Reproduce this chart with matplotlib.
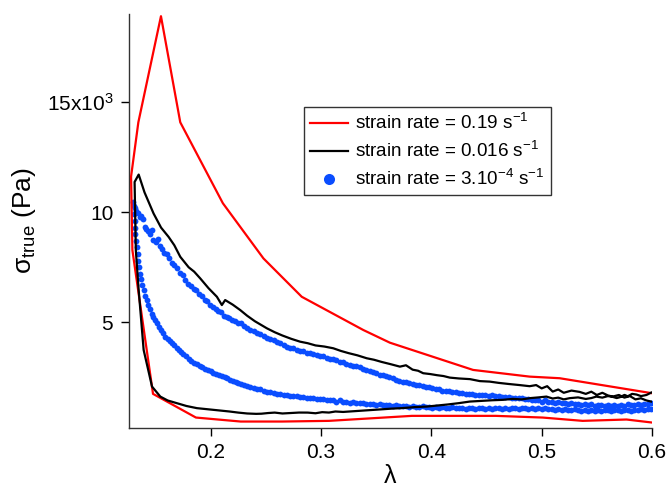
import matplotlib
matplotlib.use("Agg")
import matplotlib.pyplot as plt

plt.rcParams['font.family'] = ['Liberation Sans', 'DejaVu Sans']
plt.rcParams['mathtext.fontset'] = 'custom'
plt.rcParams['mathtext.rm'] = 'Liberation Sans'
plt.rcParams['mathtext.it'] = 'Liberation Sans:italic'
plt.rcParams['mathtext.bf'] = 'Liberation Sans:bold'

# ---- data ----
red_lam = [0.600, 0.5163, 0.4891, 0.4378, 0.3624, 0.3383, 0.2825, 0.2478, 0.2110,
           0.1724, 0.1549, 0.1344, 0.1278, 0.1290, 0.1477, 0.1866, 0.2272, 0.2647,
           0.3072, 0.3824, 0.4213, 0.4584, 0.5009, 0.5371, 0.5769, 0.600]
red_sig = [1780, 2461, 2534, 2838, 4075, 4651, 6160, 7901, 10408,
           14082, 18900, 14082, 11617, 8277, 1750, 675, 494, 494,
           525, 752, 752, 752, 675, 525, 586, 449]

black_lam = [0.5993, 0.5950, 0.5900, 0.5860, 0.5820, 0.5780, 0.5751, 0.5710, 0.5680,
             0.5640, 0.5600, 0.5550, 0.5495, 0.5450, 0.5400, 0.5330, 0.5253, 0.5200,
             0.5150, 0.5100, 0.5043, 0.4970, 0.4900, 0.4820, 0.4738, 0.4650, 0.4550,
             0.4450, 0.4348, 0.4250, 0.4150, 0.4050, 0.3959, 0.3850, 0.3730, 0.3640,
             0.3550, 0.3460, 0.3380, 0.3290, 0.3200, 0.3130, 0.3072, 0.3010, 0.2950,
             0.2880, 0.2801, 0.2720, 0.2650, 0.2580, 0.2520, 0.2460, 0.2412, 0.2330,
             0.2250, 0.2170, 0.2086, 0.1980, 0.1875, 0.1780, 0.1694, 0.1610, 0.1543,
             0.1468, 0.1392, 0.1347, 0.1321, 0.1310, 0.1347, 0.1400, 0.1482, 0.1550,
             0.1618, 0.1670, 0.1724, 0.1800, 0.1850, 0.1905, 0.1980, 0.2056, 0.2101,
             0.2131, 0.2200, 0.2267, 0.2330, 0.2400, 0.2450, 0.2509, 0.2580, 0.2650,
             0.2730, 0.2810, 0.2880, 0.2950, 0.3030, 0.3111, 0.3180, 0.3250, 0.3330,
             0.3414, 0.3480, 0.3550, 0.3630, 0.3715, 0.3770, 0.3830, 0.3880, 0.3926,
             0.3990, 0.4050, 0.4110, 0.4167, 0.4250, 0.4350, 0.4440, 0.4529, 0.4610,
             0.4700, 0.4800, 0.4891, 0.4950, 0.5000, 0.5050, 0.5100, 0.5150, 0.5200,
             0.5270, 0.5344, 0.5400, 0.5450, 0.5500, 0.5550, 0.5600, 0.5643, 0.5700,
             0.5750, 0.5800, 0.5850, 0.5900, 0.5950, 0.5993]
black_sig = [1809, 1700, 1650, 1720, 1750, 1640, 1704, 1600, 1560,
             1620, 1650, 1580, 1627, 1560, 1520, 1590, 1555, 1500,
             1580, 1540, 1627, 1590, 1560, 1500, 1523, 1480, 1460,
             1430, 1401, 1330, 1270, 1220, 1174, 1150, 1102, 1080,
             1050, 1020, 993, 960, 930, 950, 902, 920, 870,
             900, 902, 880, 860, 900, 880, 850, 843, 860,
             900, 950, 993, 1050, 1102, 1200, 1328, 1450, 1627,
             2081, 3744, 6464, 8277, 11373, 11709, 10900, 9941, 9300,
             8880, 8500, 7974, 7500, 7300, 6994, 6550, 6160, 5784,
             6011, 5800, 5558, 5300, 5050, 4900, 4728, 4550, 4400,
             4250, 4121, 4050, 3950, 3900, 3821, 3700, 3600, 3500,
             3368, 3300, 3200, 3100, 2987, 3050, 2850, 2800, 2688,
             2650, 2600, 2560, 2489, 2450, 2420, 2330, 2307, 2250,
             2200, 2150, 2099, 2150, 2000, 2100, 1854, 1950, 1800,
             1900, 1840, 1750, 1850, 1700, 1800, 1680, 1627, 1700,
             1580, 1650, 1500, 1550, 1450, 1401]

blue_up_lam = [0.1300, 0.1310, 0.1325, 0.1340, 0.1355, 0.1370, 0.1385, 0.1400, 0.1415, 0.1430,
               0.1450, 0.1465, 0.1480, 0.1500, 0.1520, 0.1540, 0.1560, 0.1580, 0.1600, 0.1620,
               0.1645, 0.1670, 0.1695, 0.1720, 0.1745, 0.1770, 0.1795, 0.1820, 0.1845, 0.1870,
               0.1895, 0.1920, 0.1945, 0.1970, 0.1995, 0.2020, 0.2045, 0.2070, 0.2095, 0.2120,
               0.2145, 0.2170, 0.2195, 0.2220, 0.2245, 0.2270, 0.2300, 0.2330, 0.2360, 0.2390,
               0.2420, 0.2450, 0.2480, 0.2510, 0.2540, 0.2570, 0.2600, 0.2630, 0.2660, 0.2690,
               0.2720, 0.2750, 0.2780, 0.2810, 0.2840, 0.2870, 0.2900, 0.2930, 0.2960, 0.2990,
               0.3020, 0.3050, 0.3080, 0.3110, 0.3140, 0.3170, 0.3200, 0.3230, 0.3260, 0.3290,
               0.3320, 0.3350, 0.3380, 0.3410, 0.3440, 0.3470, 0.3500, 0.3530, 0.3560, 0.3590,
               0.3620, 0.3650, 0.3680, 0.3710, 0.3740, 0.3770, 0.3800, 0.3830, 0.3860, 0.3890,
               0.3920, 0.3950, 0.3980, 0.4010, 0.4040, 0.4070, 0.4100, 0.4130, 0.4160, 0.4190,
               0.4220, 0.4250, 0.4280, 0.4310, 0.4340, 0.4370, 0.4400, 0.4430, 0.4460, 0.4490,
               0.4520, 0.4550, 0.4580, 0.4610, 0.4640, 0.4670, 0.4700, 0.4730, 0.4760, 0.4790,
               0.4820, 0.4850, 0.4880, 0.4910, 0.4940, 0.4970, 0.5000, 0.5030, 0.5060, 0.5090,
               0.5120, 0.5150, 0.5180, 0.5210, 0.5240, 0.5270, 0.5300, 0.5330, 0.5360, 0.5390,
               0.5420, 0.5450, 0.5480, 0.5510, 0.5540, 0.5570, 0.5600, 0.5630, 0.5660, 0.5690,
               0.5720, 0.5750, 0.5780, 0.5810, 0.5840, 0.5870, 0.5900, 0.5930, 0.5960, 0.5990]
blue_up_sig = [10450, 10200, 10050, 9950, 9800, 9850, 9700, 9350, 9250, 9150,
               9000, 9200, 8750, 8650, 8800, 8450, 8350, 8150, 8100, 7900,
               7700, 7600, 7450, 7250, 7150, 6900, 6750, 6650, 6500, 6450,
               6300, 6200, 6000, 5950, 5800, 5700, 5600, 5500, 5450, 5300,
               5250, 5200, 5100, 5050, 4950, 4950, 4850, 4750, 4650, 4600,
               4500, 4450, 4400, 4300, 4250, 4200, 4100, 4050, 3950, 3900,
               3850, 3850, 3750, 3700, 3700, 3600, 3600, 3550, 3500, 3450,
               3450, 3400, 3350, 3350, 3300, 3200, 3200, 3100, 3050, 3000,
               3000, 2950, 2900, 2850, 2800, 2750, 2700, 2600, 2600, 2550,
               2500, 2450, 2400, 2350, 2300, 2300, 2250, 2200, 2150, 2150,
               2100, 2050, 2050, 2000, 1950, 1950, 1900, 1900, 1900, 1850,
               1850, 1800, 1800, 1750, 1750, 1750, 1700, 1700, 1700, 1700,
               1650, 1700, 1650, 1650, 1600, 1600, 1600, 1550, 1550, 1550,
               1550, 1500, 1500, 1450, 1450, 1450, 1400, 1450, 1400, 1400,
               1350, 1400, 1350, 1350, 1300, 1350, 1300, 1300, 1250, 1300,
               1250, 1300, 1200, 1250, 1250, 1200, 1250, 1200, 1250, 1200,
               1250, 1200, 1300, 1250, 1250, 1300, 1250, 1300, 1300, 1350]

blue_lo_lam = [0.1305, 0.1308, 0.1310, 0.1315, 0.1318, 0.1322, 0.1330, 0.1338, 0.1345, 0.1352,
               0.1360, 0.1370, 0.1380, 0.1392, 0.1405, 0.1420, 0.1435, 0.1450, 0.1465, 0.1480,
               0.1495, 0.1510, 0.1530, 0.1550, 0.1570, 0.1590, 0.1610, 0.1630, 0.1650, 0.1670,
               0.1690, 0.1710, 0.1730, 0.1750, 0.1775, 0.1800, 0.1825, 0.1850, 0.1875, 0.1900,
               0.1925, 0.1950, 0.1975, 0.2000, 0.2025, 0.2050, 0.2075, 0.2100, 0.2125, 0.2150,
               0.2175, 0.2200, 0.2225, 0.2250, 0.2275, 0.2300, 0.2330, 0.2360, 0.2390, 0.2420,
               0.2450, 0.2480, 0.2510, 0.2540, 0.2570, 0.2600, 0.2630, 0.2660, 0.2690, 0.2720,
               0.2750, 0.2780, 0.2810, 0.2840, 0.2870, 0.2900, 0.2930, 0.2960, 0.2990, 0.3020,
               0.3050, 0.3080, 0.3110, 0.3140, 0.3170, 0.3200, 0.3230, 0.3260, 0.3290, 0.3320,
               0.3350, 0.3380, 0.3410, 0.3440, 0.3470, 0.3500, 0.3530, 0.3560, 0.3590, 0.3620,
               0.3650, 0.3680, 0.3710, 0.3740, 0.3770, 0.3800, 0.3830, 0.3860, 0.3890, 0.3920,
               0.3950, 0.3980, 0.4010, 0.4040, 0.4070, 0.4100, 0.4130, 0.4160, 0.4190, 0.4220,
               0.4250, 0.4280, 0.4310, 0.4340, 0.4370, 0.4400, 0.4430, 0.4460, 0.4490, 0.4520,
               0.4550, 0.4580, 0.4610, 0.4640, 0.4670, 0.4700, 0.4730, 0.4760, 0.4790, 0.4820,
               0.4850, 0.4880, 0.4910, 0.4940, 0.4970, 0.5000, 0.5030, 0.5060, 0.5090, 0.5120,
               0.5150, 0.5180, 0.5210, 0.5240, 0.5270, 0.5300, 0.5330, 0.5360, 0.5390, 0.5420,
               0.5450, 0.5480, 0.5510, 0.5540, 0.5570, 0.5600, 0.5630, 0.5660, 0.5690, 0.5720,
               0.5750, 0.5780, 0.5810, 0.5840, 0.5870, 0.5900, 0.5930, 0.5960, 0.5990]
blue_lo_sig = [10300, 9900, 9600, 9300, 9000, 8700, 8400, 8100, 7800, 7500,
               7200, 6950, 6700, 6450, 6200, 6000, 5800, 5600, 5400, 5250,
               5100, 4950, 4800, 4650, 4500, 4350, 4250, 4150, 4050, 3950,
               3850, 3750, 3650, 3550, 3450, 3350, 3250, 3150, 3100, 3000,
               2950, 2900, 2850, 2800, 2700, 2650, 2600, 2550, 2500, 2450,
               2400, 2350, 2300, 2250, 2200, 2150, 2100, 2050, 2000, 1950,
               1950, 1900, 1850, 1850, 1800, 1750, 1750, 1700, 1700, 1650,
               1650, 1650, 1600, 1600, 1550, 1550, 1550, 1500, 1500, 1500,
               1450, 1450, 1450, 1400, 1450, 1400, 1400, 1350, 1400, 1350,
               1350, 1350, 1300, 1300, 1300, 1250, 1300, 1250, 1250, 1250,
               1200, 1250, 1200, 1200, 1200, 1150, 1200, 1150, 1150, 1200,
               1150, 1150, 1100, 1150, 1100, 1150, 1100, 1100, 1150, 1100,
               1100, 1100, 1050, 1100, 1100, 1050, 1100, 1100, 1050, 1100,
               1050, 1100, 1100, 1050, 1100, 1050, 1100, 1100, 1050, 1100,
               1100, 1050, 1100, 1050, 1100, 1050, 1100, 1050, 1050, 1000,
               1050, 1000, 1050, 1000, 1000, 1050, 1000, 950, 1000, 950,
               1000, 950, 1000, 950, 1000, 1000, 950, 1000, 1000, 950,
               1000, 1000, 950, 1000, 1000, 1050, 1000, 1050, 1050]

labels = ['strain rate = 0.19 s$^{-1}$',
          'strain rate = 0.016 s$^{-1}$',
          'strain rate = 3.10$^{-4}$ s$^{-1}$']
xticks = [0.2, 0.3, 0.4, 0.5, 0.6]
xticklabels = ['0.2', '0.3', '0.4', '0.5', '0.6']
yticks = [5000, 10000, 15000]
yticklabels = ['5', '10', '15x10$^{3}$']

# ---- plot ----
fig = plt.figure(figsize=(6.67, 4.9), dpi=100)
ax = fig.add_axes([0.1927, 0.1265, 0.7848, 0.8449])

blue = '#0a4dff'
ax.plot(red_lam, red_sig, color='#ff0000', lw=1.6, label=labels[0], zorder=3)
ax.plot(black_lam, black_sig, color='black', lw=1.6, label=labels[1], zorder=4)
ax.plot(blue_up_lam + blue_lo_lam, blue_up_sig + blue_lo_sig, linestyle='none',
        marker='o', markersize=4.2, markeredgewidth=0, color=blue,
        label=labels[2], zorder=2)

ax.set_xlim(0.1255, 0.6)
ax.set_ylim(200, 19000)
ax.set_xticks(xticks)
ax.set_xticklabels(xticklabels)
ax.set_yticks(yticks)
ax.set_yticklabels(yticklabels)
ax.tick_params(direction='out', length=6, width=1, labelsize=15, colors='black', pad=5)

for s in ['top', 'right']:
    ax.spines[s].set_visible(False)
for s in ['left', 'bottom']:
    ax.spines[s].set_linewidth(1.0)
    ax.spines[s].set_color('#333333')

ax.set_xlabel('λ', fontsize=18, labelpad=1)
ax.set_ylabel('σ$_{\\mathrm{true}}$ (Pa)', fontsize=19, labelpad=6)

leg = ax.legend(loc='upper left', bbox_to_anchor=(0.335, 0.775), borderaxespad=0,
                fontsize=13.6, frameon=True, fancybox=False, edgecolor='black',
                handlelength=2.0, handletextpad=0.4, labelspacing=0.42,
                borderpad=0.32, markerscale=1.9)
leg.get_frame().set_linewidth(1.0)

fig.savefig('out.png', dpi=100)
